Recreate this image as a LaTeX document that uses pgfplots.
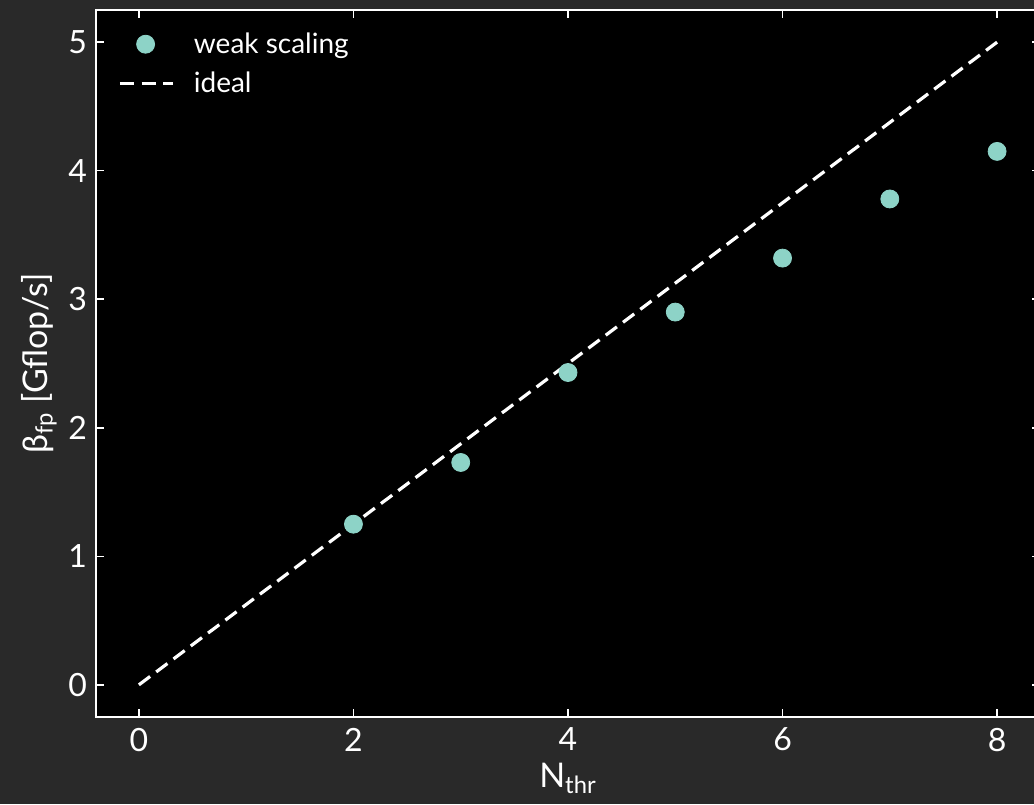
\documentclass[border=0pt]{standalone}
\usepackage{pgfplots}
\pgfplotsset{compat=1.18}
\usepackage{fontspec}
\setmainfont{Lato}
\definecolor{bgc}{RGB}{41,41,41}
\definecolor{teal}{HTML}{8DD3C7}
\pgfplotsset{
  scatterleg/.style={legend image code/.code={\draw[mark repeat=2,mark phase=2,##1] plot coordinates {(0cm,0cm)(0.45cm,0cm)(0.9cm,0cm)};\path (1.2cm,0cm);}},
  lineleg/.style={legend image code/.code={\draw[##1] (0cm,0cm) -- (0.93cm,0cm);\path (1.2cm,0cm);}},
}
\begin{document}
\begin{tikzpicture}
\fill[bgc] (-48pt,-43.5pt) rectangle (469pt,358.5pt);
\begin{axis}[
  at={(0,0)}, anchor=south west,
  scale only axis, width=472pt, height=353.5pt,
  xmin=-0.4, xmax=8.4, ymin=-0.25, ymax=5.25,
  xtick={0,2,4,6,8}, ytick={0,1,2,3,4,5},
  axis background/.style={fill=black},
  axis line style={white, line width=1pt},
  every tick/.style={white, line width=0.75pt},
  major tick length=4pt,
  tick align=inside,
  xtick pos=both, ytick pos=both,
  /pgf/number format/assume math mode=true,
  tick label style={font=\fontsize{16}{18}\selectfont, text=white},
  xticklabel style={yshift=-2pt},
  yticklabel style={xshift=-1pt},
  xlabel={N\textsubscript{thr}},
  ylabel={β\textsubscript{fp} [Gflop/s]},
  label style={font=\fontsize{17}{19}\selectfont, text=white},
  xlabel style={yshift=1pt},
  ylabel style={yshift=-1pt},
  legend style={at={(0,1)}, anchor=north west, xshift=8pt, yshift=-7pt,
    draw=none, fill=none, text=white, font=\fontsize{14}{16}\selectfont,
    row sep=4pt},
  legend cell align=left,
]
\addplot[only marks, mark=*, mark size=4.5pt, color=teal, fill=teal, scatterleg]
  coordinates {(2,1.25) (3,1.73) (4,2.43) (5,2.90) (6,3.32) (7,3.78) (8,4.15)};
\addlegendentry{weak scaling}
\addplot[white, line width=1.6pt, dash pattern=on 7pt off 3.8pt, no marks, lineleg]
  coordinates {(0,0) (1,0.625) (2,1.25) (3,1.875) (4,2.5) (5,3.125) (6,3.75) (7,4.375) (8,5)};
\addlegendentry{ideal}
\end{axis}
\pgfresetboundingbox
\useasboundingbox (-48pt,-43.5pt) rectangle (469pt,358.5pt);
\end{tikzpicture}
\end{document}
